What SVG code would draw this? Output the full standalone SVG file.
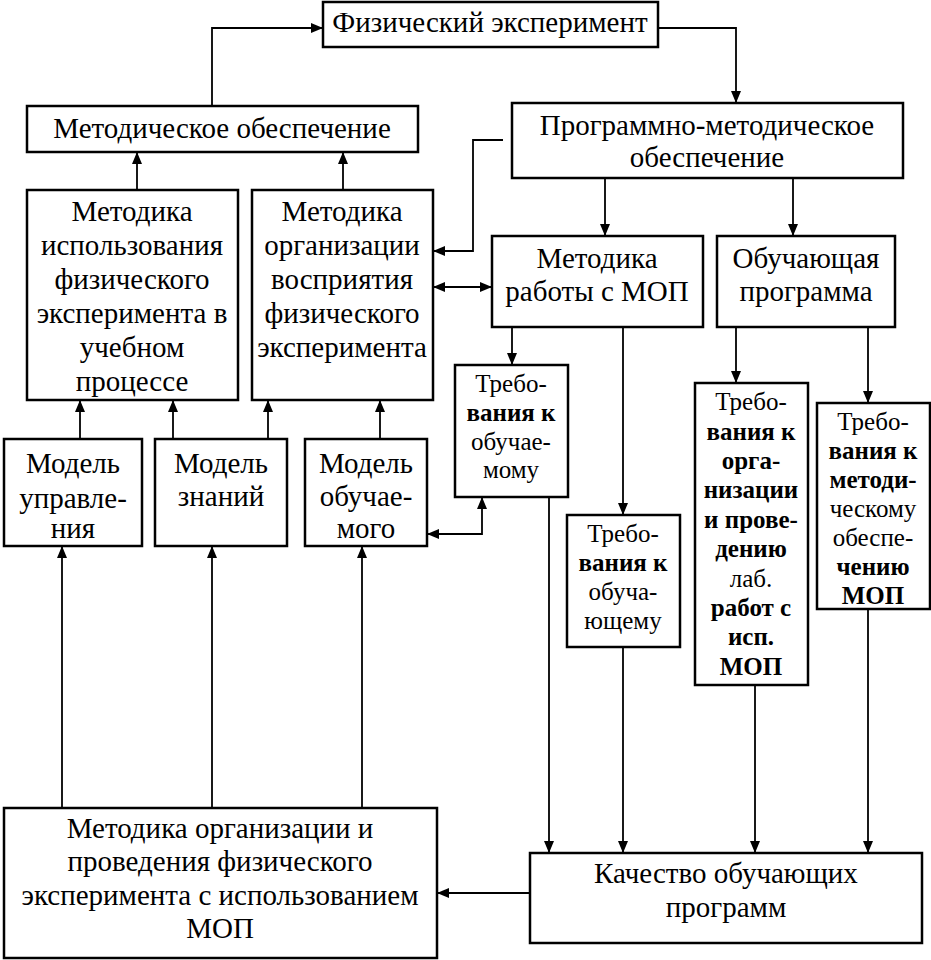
<svg xmlns="http://www.w3.org/2000/svg" width="931" height="960" viewBox="0 0 931 960">
<defs>
<marker id="ah" viewBox="0 0 12 10" refX="12" refY="5" markerWidth="12" markerHeight="10" markerUnits="userSpaceOnUse" orient="auto-start-reverse">
<path d="M0,0 L12,5 L0,10 z" fill="#000"/>
</marker>
</defs>
<rect width="931" height="960" fill="#fff"/>
<g id="connectors" fill="none" stroke="#000" stroke-width="1.8">
<path d="M212,105 V28 H323" marker-end="url(#ah)"/>
<path d="M658,28 H736 V103" marker-end="url(#ah)"/>
<path d="M137,190 V152" marker-end="url(#ah)"/>
<path d="M343,190 V152" marker-end="url(#ah)"/>
<path d="M503,140 H473 V251 H433" marker-end="url(#ah)"/>
<path d="M605,178 V236" marker-end="url(#ah)"/>
<path d="M793,178 V236" marker-end="url(#ah)"/>
<path d="M433,287 H492" marker-start="url(#ah)" marker-end="url(#ah)"/>
<path d="M80,439 V400" marker-end="url(#ah)"/>
<path d="M173,439 V400" marker-end="url(#ah)"/>
<path d="M268,439 V400" marker-end="url(#ah)"/>
<path d="M380,439 V400" marker-end="url(#ah)"/>
<path d="M62,808 V546" marker-end="url(#ah)"/>
<path d="M212,808 V546" marker-end="url(#ah)"/>
<path d="M362,808 V546" marker-end="url(#ah)"/>
<path d="M512,327 V365" marker-end="url(#ah)"/>
<path d="M482,497 V534 H427" marker-start="url(#ah)" marker-end="url(#ah)"/>
<path d="M549,497 V853" marker-end="url(#ah)"/>
<path d="M623,327 V515" marker-end="url(#ah)"/>
<path d="M623,647 V853" marker-end="url(#ah)"/>
<path d="M736,327 V383" marker-end="url(#ah)"/>
<path d="M755,685 V853" marker-end="url(#ah)"/>
<path d="M868,327 V403" marker-end="url(#ah)"/>
<path d="M868,609 V853" marker-end="url(#ah)"/>
<path d="M530,893 H437" marker-end="url(#ah)"/>
</g>
<g id="n-fiz" text-anchor="middle" font-size="29" font-family="Liberation Serif">
<rect x="323" y="2" width="335" height="45" fill="#fff" stroke="#000" stroke-width="2.5"/>
<text x="490" y="32" font-family="Liberation Serif">Физический эксперимент</text>
</g>
<g id="n-metobesp" text-anchor="middle" font-size="29" font-family="Liberation Serif">
<rect x="27" y="106" width="391" height="46" fill="#fff" stroke="#000" stroke-width="2.5"/>
<text x="222" y="138" font-family="Liberation Serif">Методическое обеспечение</text>
</g>
<g id="n-progmet" text-anchor="middle" font-size="29" font-family="Liberation Serif">
<rect x="512" y="103" width="391" height="75" fill="#fff" stroke="#000" stroke-width="2.5"/>
<text x="707" y="135" font-family="Liberation Serif">Программно-методическое</text>
<text x="707" y="167" font-family="Liberation Serif">обеспечение</text>
</g>
<g id="n-metisp" text-anchor="middle" font-size="29" font-family="Liberation Serif">
<rect x="27" y="190" width="211" height="210" fill="#fff" stroke="#000" stroke-width="2.5"/>
<text x="132" y="221" font-family="Liberation Serif">Методика</text>
<text x="132" y="255" font-family="Liberation Serif">использования</text>
<text x="132" y="289" font-family="Liberation Serif">физического</text>
<text x="132" y="323" font-family="Liberation Serif">эксперимента в</text>
<text x="132" y="357" font-family="Liberation Serif">учебном</text>
<text x="132" y="391" font-family="Liberation Serif">процессе</text>
</g>
<g id="n-metorg" text-anchor="middle" font-size="29" font-family="Liberation Serif">
<rect x="252" y="190" width="181" height="210" fill="#fff" stroke="#000" stroke-width="2.5"/>
<text x="342" y="221" font-family="Liberation Serif">Методика</text>
<text x="342" y="255" font-family="Liberation Serif">организации</text>
<text x="342" y="289" font-family="Liberation Serif">восприятия</text>
<text x="342" y="323" font-family="Liberation Serif">физического</text>
<text x="342" y="357" font-family="Liberation Serif">эксперимента</text>
</g>
<g id="n-metrab" text-anchor="middle" font-size="29" font-family="Liberation Serif">
<rect x="492" y="236" width="211" height="91" fill="#fff" stroke="#000" stroke-width="2.5"/>
<text x="597" y="268" font-family="Liberation Serif">Методика</text>
<text x="597" y="301" font-family="Liberation Serif">работы с МОП</text>
</g>
<g id="n-obuch" text-anchor="middle" font-size="29" font-family="Liberation Serif">
<rect x="717" y="236" width="178" height="91" fill="#fff" stroke="#000" stroke-width="2.5"/>
<text x="806" y="268" font-family="Liberation Serif">Обучающая</text>
<text x="806" y="301" font-family="Liberation Serif">программа</text>
</g>
<g id="n-modupr" text-anchor="middle" font-size="29" font-family="Liberation Serif">
<rect x="4" y="439" width="138" height="107" fill="#fff" stroke="#000" stroke-width="2.5"/>
<text x="73" y="473" font-family="Liberation Serif">Модель</text>
<text x="73" y="508" font-family="Liberation Serif">управле-</text>
<text x="73" y="538" font-family="Liberation Serif">ния</text>
</g>
<g id="n-modzn" text-anchor="middle" font-size="29" font-family="Liberation Serif">
<rect x="155" y="439" width="132" height="107" fill="#fff" stroke="#000" stroke-width="2.5"/>
<text x="221" y="473" font-family="Liberation Serif">Модель</text>
<text x="221" y="506" font-family="Liberation Serif">знаний</text>
</g>
<g id="n-modobuch" text-anchor="middle" font-size="29" font-family="Liberation Serif">
<rect x="305" y="439" width="122" height="107" fill="#fff" stroke="#000" stroke-width="2.5"/>
<text x="366" y="473" font-family="Liberation Serif">Модель</text>
<text x="366" y="506" font-family="Liberation Serif">обучае-</text>
<text x="366" y="538" font-family="Liberation Serif">мого</text>
</g>
<g id="n-treb1" text-anchor="middle" font-size="25" font-family="Liberation Serif">
<rect x="455" y="365" width="113" height="132" fill="#fff" stroke="#000" stroke-width="2.5"/>
<text x="511" y="392" font-family="Liberation Serif">Требо-</text>
<text x="511" y="421" font-family="Liberation Serif" font-weight="bold">вания к</text>
<text x="511" y="450" font-family="Liberation Serif">обучае-</text>
<text x="511" y="478" font-family="Liberation Serif">мому</text>
</g>
<g id="n-treb2" text-anchor="middle" font-size="25" font-family="Liberation Serif">
<rect x="567" y="515" width="113" height="132" fill="#fff" stroke="#000" stroke-width="2.5"/>
<text x="623" y="542" font-family="Liberation Serif">Требо-</text>
<text x="623" y="571" font-family="Liberation Serif" font-weight="bold">вания к</text>
<text x="623" y="600" font-family="Liberation Serif">обуча-</text>
<text x="623" y="629" font-family="Liberation Serif">ющему</text>
</g>
<g id="n-treb3" text-anchor="middle" font-size="25" font-family="Liberation Serif">
<rect x="695" y="383" width="113" height="302" fill="#fff" stroke="#000" stroke-width="2.5"/>
<text x="751" y="410" font-family="Liberation Serif">Требо-</text>
<text x="751" y="440" font-family="Liberation Serif" font-weight="bold">вания к</text>
<text x="751" y="469" font-family="Liberation Serif" font-weight="bold">орга-</text>
<text x="751" y="498" font-family="Liberation Serif" font-weight="bold">низации</text>
<text x="751" y="528" font-family="Liberation Serif" font-weight="bold">и прове-</text>
<text x="751" y="557" font-family="Liberation Serif" font-weight="bold">дению</text>
<text x="751" y="587" font-family="Liberation Serif">лаб.</text>
<text x="751" y="616" font-family="Liberation Serif" font-weight="bold">работ с</text>
<text x="751" y="645" font-family="Liberation Serif" font-weight="bold">исп.</text>
<text x="751" y="675" font-family="Liberation Serif" font-weight="bold">МОП</text>
</g>
<g id="n-treb4" text-anchor="middle" font-size="25" font-family="Liberation Serif">
<rect x="817" y="403" width="113" height="206" fill="#fff" stroke="#000" stroke-width="2.5"/>
<text x="873" y="430" font-family="Liberation Serif">Требо-</text>
<text x="873" y="459" font-family="Liberation Serif" font-weight="bold">вания к</text>
<text x="873" y="488" font-family="Liberation Serif" font-weight="bold">методи-</text>
<text x="873" y="517" font-family="Liberation Serif">ческому</text>
<text x="873" y="546" font-family="Liberation Serif">обеспе-</text>
<text x="873" y="575" font-family="Liberation Serif" font-weight="bold">чению</text>
<text x="873" y="604" font-family="Liberation Serif" font-weight="bold">МОП</text>
</g>
<g id="n-kach" text-anchor="middle" font-size="29" font-family="Liberation Serif">
<rect x="530" y="853" width="392" height="90" fill="#fff" stroke="#000" stroke-width="2.5"/>
<text x="726" y="883" font-family="Liberation Serif">Качество обучающих</text>
<text x="726" y="917" font-family="Liberation Serif">программ</text>
</g>
<g id="n-metprov" text-anchor="middle" font-size="29" font-family="Liberation Serif">
<rect x="4" y="808" width="433" height="150" fill="#fff" stroke="#000" stroke-width="2.5"/>
<text x="220" y="838" font-family="Liberation Serif">Методика организации и</text>
<text x="220" y="871" font-family="Liberation Serif">проведения физического</text>
<text x="220" y="905" font-family="Liberation Serif">эксперимента с использованием</text>
<text x="220" y="938" font-family="Liberation Serif">МОП</text>
</g>
</svg>
